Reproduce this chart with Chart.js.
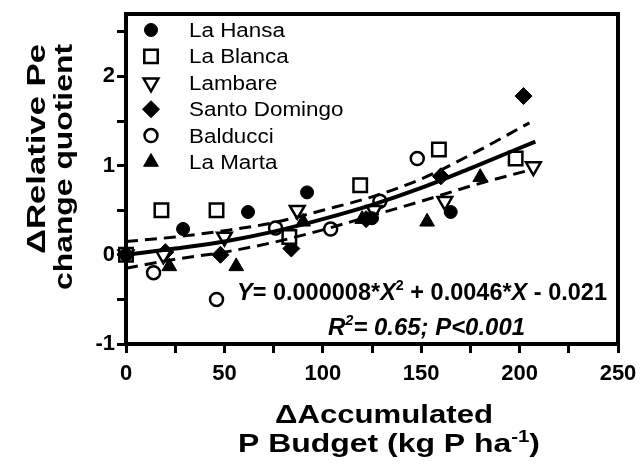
<!DOCTYPE html>
<html>
<head>
<meta charset="utf-8">
<script src="https://cdn.jsdelivr.net/npm/chart.js@4/dist/chart.umd.min.js"></script>
<style>
  body { margin: 0; background: #fff; }
</style>
</head>
<body>
<canvas id="chart" width="641" height="472"></canvas>
<script>
// values
var seriesNames = ["La Hansa", "La Blanca", "Lambare", "Santo Domingo", "Balducci", "La Marta"];

var hansaX = [0, 29, 62, 92, 125, 165];
var hansaY = [0, 0.29, 0.48, 0.70, 0.41, 0.48];
var blancaX = [0, 18, 46, 83, 119, 159, 198];
var blancaY = [0, 0.5, 0.5, 0.2, 0.78, 1.18, 1.08];
var lambareX = [0, 19, 50, 87, 126, 162, 207];
var lambareY = [0, 0.0, 0.2, 0.5, 0.5, 0.6, 0.99];
var santoX = [0, 20, 48, 84, 122, 160, 202];
var santoY = [0, 0.03, 0.0, 0.07, 0.4, 0.88, 1.78];
var balducciX = [0, 14, 46, 76, 104, 129, 148];
var balducciY = [0, -0.2, -0.5, 0.3, 0.29, 0.6, 1.08];
var martaX = [0, 22, 56, 90, 120, 153, 180];
var martaY = [0, -0.13, -0.13, 0.37, 0.4, 0.37, 0.87];

// fitted curve and its confidence band
var fitX = [0, 25, 50, 75, 100, 125, 150, 175, 208];
var fitY = [0.0, 0.07, 0.15, 0.26, 0.40, 0.56, 0.75, 0.97, 1.27];
var bandX = [0, 25, 50, 75, 100, 125, 150, 175, 205];
var upperY = [0.15, 0.2, 0.27, 0.36, 0.5, 0.65, 0.85, 1.12, 1.48];
var lowerY = [-0.15, -0.05, 0.03, 0.14, 0.28, 0.44, 0.6, 0.77, 0.95];

var xTicks = [0, 25, 50, 75, 100, 125, 150, 175, 200, 225, 250];
var xLabels = [0, 50, 100, 150, 200, 250];
var yTicks = [-1, -0.5, 0, 0.5, 1, 1.5, 2, 2.5];
var yLabels = [-1, 0, 1, 2];

var FONT = 'Arial, "Liberation Sans", sans-serif';

function pts(xs, ys) {
  return xs.map(function (x, i) { return { x: x, y: ys[i] }; });
}

var markers = [
  { style: 'circle', radius: 6.5, fill: '#000', rot: 0 },
  { style: 'rect', radius: 9.5, fill: '#fff', rot: 0 },
  { style: 'triangle', radius: 8.5, fill: '#fff', rot: 180 },
  { style: 'rectRot', radius: 8.5, fill: '#000', rot: 0 },
  { style: 'circle', radius: 6.5, fill: '#fff', rot: 0 },
  { style: 'triangle', radius: 8.5, fill: '#000', rot: 0 }
];
var seriesData = [
  pts(hansaX, hansaY), pts(blancaX, blancaY), pts(lambareX, lambareY),
  pts(santoX, santoY), pts(balducciX, balducciY), pts(martaX, martaY)
];

var datasets = [];
function lineSet(xs, ys, dash, width) {
  return {
    type: 'line', data: pts(xs, ys), borderColor: '#000', borderWidth: width,
    borderDash: dash, pointRadius: 0, cubicInterpolationMode: 'monotone', fill: false, clip: false
  };
}
datasets.push(lineSet(fitX, fitY, [], 4));
datasets.push(lineSet(bandX, upperY, [12, 7], 3));
datasets.push(lineSet(bandX, lowerY, [12, 7], 3));
seriesNames.forEach(function (name, i) {
  var m = markers[i];
  datasets.push({
    label: name, data: seriesData[i], pointStyle: m.style, pointRadius: m.radius,
    pointRotation: m.rot, backgroundColor: m.fill, borderColor: '#000',
    borderWidth: m.fill === '#fff' ? 2.5 : 1, clip: false
  });
});

function fontFor(p, size) {
  return (p.it ? 'italic ' : '') + 'bold ' + (p.sup ? Math.round(size * 0.62) : size) + 'px ' + FONT;
}

// draws a run of text parts stretched to span exactly x0..x1
function drawRun(ctx, parts, x0, x1, y, size) {
  var total = 0;
  parts.forEach(function (p) {
    ctx.font = fontFor(p, size);
    p.w = ctx.measureText(p.t).width;
    total += p.w;
  });
  var k = (x1 - x0) / total;
  ctx.save();
  ctx.translate(x0, y);
  ctx.scale(k, 1);
  var cx = 0;
  parts.forEach(function (p) {
    ctx.font = fontFor(p, size);
    ctx.fillText(p.t, cx, p.sup ? -size * 0.42 : 0);
    cx += p.w;
  });
  ctx.restore();
}

var decor = {
  id: 'decor',
  afterDraw: function (chart) {
    var ctx = chart.ctx;
    var a = chart.chartArea;
    ctx.save();
    // frame top and right
    ctx.strokeStyle = '#000';
    ctx.lineWidth = 4;
    ctx.beginPath();
    ctx.moveTo(a.left - 2, a.top);
    ctx.lineTo(a.right, a.top);
    ctx.lineTo(a.right, a.bottom + 2);
    ctx.stroke();

    ctx.fillStyle = '#000';
    ctx.textBaseline = 'alphabetic';
    ctx.textAlign = 'left';

    // legend
    var top = 30, step = 26.4;
    seriesNames.forEach(function (name, i) {
      var m = markers[i];
      var y = top + i * step;
      ctx.fillStyle = m.fill;
      ctx.strokeStyle = '#000';
      ctx.lineWidth = m.fill === '#fff' ? 2.5 : 1;
      Chart.helpers.drawPoint(ctx, { pointStyle: m.style, rotation: m.rot, radius: m.radius, borderWidth: ctx.lineWidth }, 151, y);
      ctx.fillStyle = '#000';
      ctx.font = '20px ' + FONT;
      ctx.save();
      ctx.translate(189, y + 7);
      ctx.scale(1.12, 1);
      ctx.fillText(name, 0, 0);
      ctx.restore();
    });

    // equation
    drawRun(ctx, [
      { t: 'Y', it: true }, { t: '= 0.000008*' }, { t: 'X', it: true }, { t: '2', sup: true },
      { t: ' + 0.0046*' }, { t: 'X', it: true }, { t: ' - 0.021' }
    ], 237, 607, 300, 23);
    drawRun(ctx, [
      { t: 'R', it: true }, { t: '2', it: true, sup: true }, { t: '= 0.65; P<0.001', it: true }
    ], 328, 525, 335, 23);

    // x title
    drawRun(ctx, [{ t: '\u0394Accumulated' }], 275, 493, 423, 25);
    drawRun(ctx, [{ t: 'P Budget (kg P ha' }, { t: '-1', sup: true }, { t: ')' }], 238, 540, 452, 25);

    // y title
    ctx.save();
    ctx.translate(45, 254);
    ctx.rotate(-Math.PI / 2);
    drawRun(ctx, [{ t: '\u0394Relative Pe' }], 0, 210, 0, 25);
    ctx.restore();
    ctx.save();
    ctx.translate(72, 290);
    ctx.rotate(-Math.PI / 2);
    drawRun(ctx, [{ t: 'change quotient' }], 0, 246, 0, 25);
    ctx.restore();

    ctx.restore();
  }
};

var tickFont = { family: FONT, size: 22, weight: 'bold' };

new Chart(document.getElementById('chart').getContext('2d'), {
  type: 'scatter',
  data: { datasets: datasets },
  options: {
    responsive: false,
    animation: false,
    devicePixelRatio: 1,
    layout: { padding: { left: 0, right: 23, top: 14, bottom: 0 } },
    plugins: { legend: { display: false }, tooltip: { enabled: false } },
    scales: {
      x: {
        type: 'linear', min: 0, max: 250,
        afterFit: function (s) { s.height = 128; s.paddingLeft = 0; s.paddingRight = 0; },
        afterBuildTicks: function (s) { s.ticks = xTicks.map(function (v) { return { value: v }; }); },
        ticks: {
          autoSkip: false, maxRotation: 0, color: '#000', font: tickFont, padding: 8,
          callback: function (v) { return xLabels.indexOf(v) >= 0 ? String(v) : ''; }
        },
        grid: { drawOnChartArea: false, tickLength: 9, tickWidth: 3, tickColor: '#000' },
        border: { color: '#000', width: 4 }
      },
      y: {
        type: 'linear', min: -1, max: 2.7,
        afterFit: function (s) { s.width = 126; s.paddingTop = 0; s.paddingBottom = 0; },
        afterBuildTicks: function (s) { s.ticks = yTicks.map(function (v) { return { value: v }; }); },
        ticks: {
          autoSkip: false, color: '#000', font: tickFont, padding: 2,
          callback: function (v) { return yLabels.indexOf(v) >= 0 ? String(v) : ''; }
        },
        grid: { drawOnChartArea: false, tickLength: 9, tickWidth: 3, tickColor: '#000' },
        border: { color: '#000', width: 4 }
      }
    }
  },
  plugins: [decor]
});
</script>
</body>
</html>
